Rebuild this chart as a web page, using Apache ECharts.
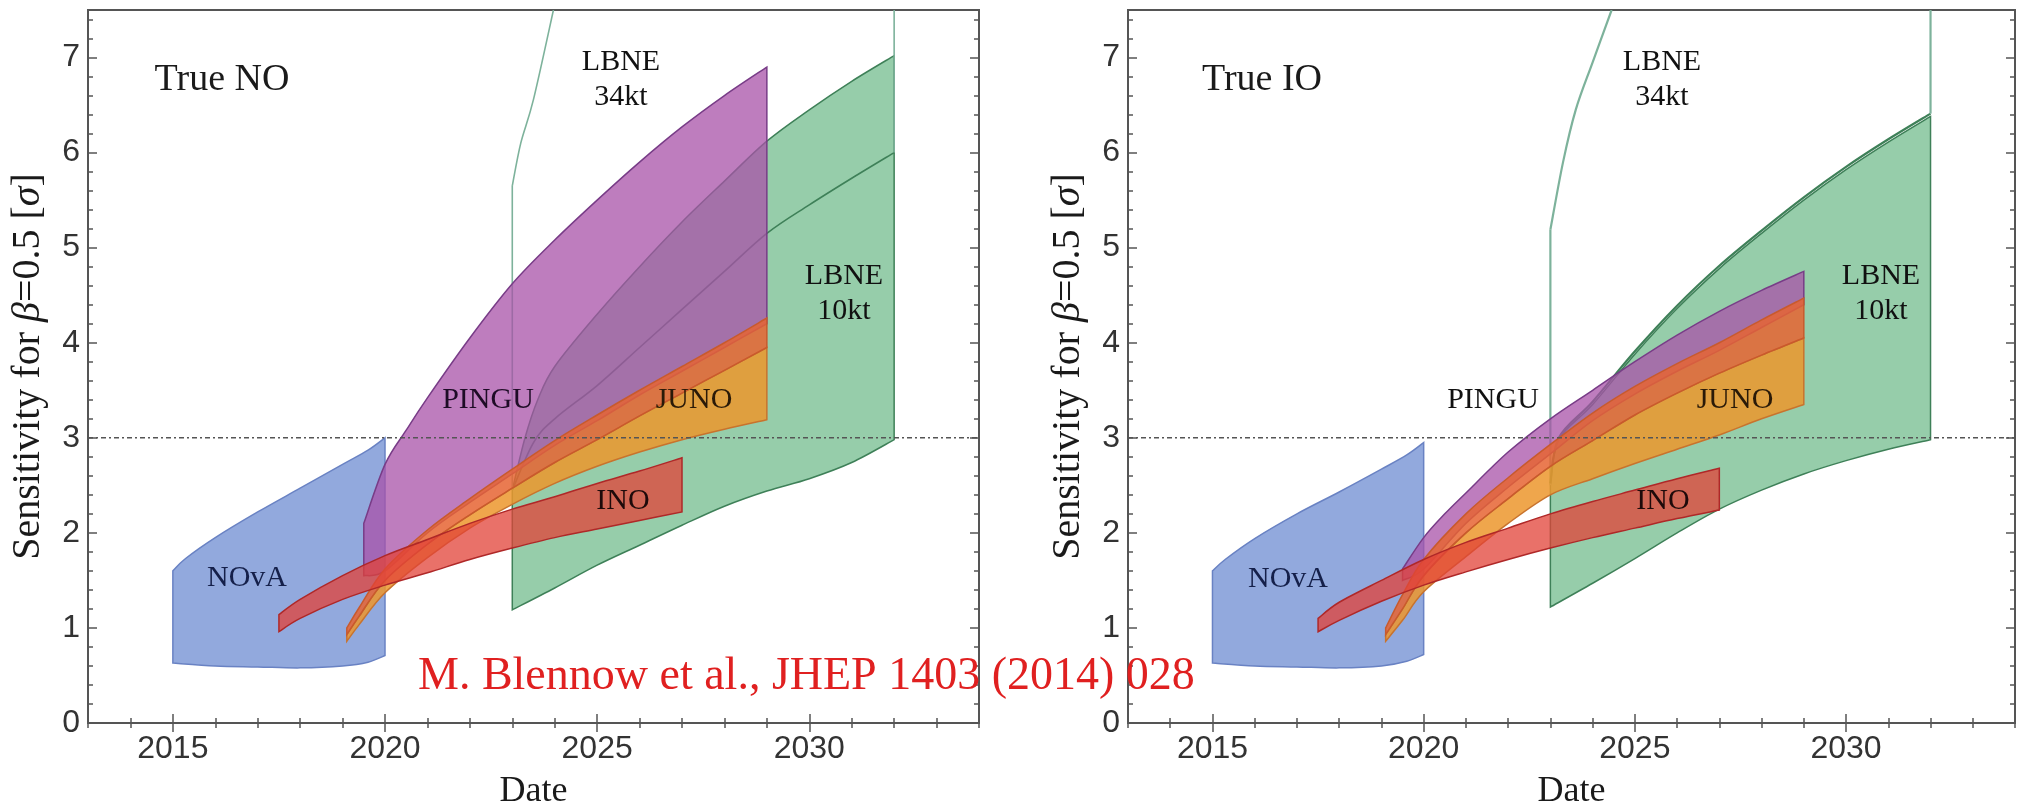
<!DOCTYPE html>
<html>
<head>
<meta charset="utf-8">
<script src="https://cdn.jsdelivr.net/npm/echarts@6/dist/echarts.min.js"></script>
<style>
  html, body { margin: 0; padding: 0; background: #fff; }
  #chart { width: 2028px; height: 811px; }
</style>
</head>
<body>
<div id="chart"></div>
<script>
// axis ranges / ticks
var xMin = 2013, xMax = 2034;
var yMin = 0, yMax = 7.5;
var xMajorTicks = [2015, 2020, 2025, 2030];
var yMajorTicks = [0, 1, 2, 3, 4, 5, 6, 7];
var sigma3Line = [[2013, 3], [2034, 3]];

// ---- True NO (left panel) ----
var novaUpperNO = [[2015,1.6],[2015.3,1.73],[2016,1.95],[2017,2.22],[2018,2.47],[2019,2.72],[2019.6,2.87],[2020,3.0]];
var novaLowerNO = [[2015,0.63],[2016,0.6],[2017,0.59],[2018,0.58],[2019,0.6],[2019.6,0.64],[2020,0.71]];
var pinguUpperNO = [[2019.5,2.1],[2020,2.72],[2020.5,3.08],[2021,3.42],[2022,4.05],[2023,4.62],[2024,5.08],[2025,5.5],[2026,5.9],[2027,6.27],[2028,6.6],[2029,6.9]];
var pinguLowerNO = [[2019.5,1.55],[2020,1.6],[2021,2.0],[2022,2.32],[2023,2.62],[2024,2.92],[2025,3.18],[2026,3.45],[2027,3.7],[2028,3.95],[2029,4.2]];
var junoUpperNO = [[2019.1,1.0],[2019.4,1.22],[2020,1.62],[2021,2.03],[2022,2.36],[2023,2.67],[2024,2.97],[2025,3.24],[2026,3.5],[2027,3.75],[2028,4.0],[2029,4.26]];
var junoMidNO = [[2019.1,0.93],[2019.4,1.13],[2020,1.5],[2021,1.88],[2022,2.19],[2023,2.47],[2024,2.74],[2025,2.98],[2026,3.23],[2027,3.47],[2028,3.71],[2029,3.95]];
var junoLowerNO = [[2019.1,0.86],[2019.4,1.04],[2020,1.37],[2021,1.74],[2022,2.05],[2023,2.3],[2024,2.52],[2025,2.7],[2026,2.85],[2027,2.98],[2028,3.09],[2029,3.19]];
var inoUpperNO = [[2017.5,1.14],[2018,1.3],[2019,1.55],[2020,1.76],[2021,1.93],[2022,2.1],[2023,2.25],[2024,2.38],[2025,2.52],[2026,2.65],[2027,2.79]];
var inoLowerNO = [[2017.5,0.96],[2018,1.1],[2019,1.3],[2020,1.45],[2021,1.58],[2022,1.72],[2023,1.84],[2024,1.95],[2025,2.04],[2026,2.13],[2027,2.22]];
var lbne10UpperNO = [[2023,2.45],[2023.3,3.0],[2023.6,3.4],[2024,3.75],[2025,4.3],[2026,4.8],[2027,5.27],[2028,5.7],[2029,6.12],[2030,6.45],[2031,6.75],[2032,7.02]];
var lbne10LowerNO = [[2023,1.19],[2024,1.42],[2025,1.66],[2026,1.87],[2027,2.08],[2028,2.28],[2029,2.44],[2030,2.57],[2031,2.74],[2032,2.98]];
var lbne34EdgeNO = [[2023,2.45],[2023,5.65]];
var lbne34UpperNO = [[2023,5.65],[2023.2,6.1],[2023.5,6.56],[2023.97,7.5]];
var lbne34LowerNO = [[2023,2.45],[2023.5,2.95],[2024,3.2],[2025,3.55],[2026,3.95],[2027,4.35],[2028,4.75],[2029,5.15],[2030,5.45],[2031,5.73],[2032,6.0]];
var lbne34RightNO = [[2032,6.0],[2032,7.5]];

// ---- True IO (right panel) ----
var novaUpperIO = [[2015,1.6],[2015.3,1.72],[2016,1.94],[2017,2.2],[2018,2.43],[2019,2.67],[2019.6,2.82],[2020,2.95]];
var novaLowerIO = [[2015,0.63],[2016,0.6],[2017,0.59],[2018,0.58],[2019,0.6],[2019.6,0.65],[2020,0.72]];
var pinguUpperIO = [[2019.5,1.62],[2020,1.95],[2020.5,2.2],[2021,2.42],[2022,2.85],[2023,3.2],[2024,3.5],[2025,3.8],[2026,4.08],[2027,4.33],[2028,4.55],[2029,4.75]];
var pinguLowerIO = [[2019.5,1.5],[2020,1.62],[2021,2.1],[2022,2.48],[2023,2.83],[2024,3.18],[2025,3.46],[2026,3.7],[2027,3.92],[2028,4.16],[2029,4.4]];
var junoUpperIO = [[2019.1,1.0],[2019.5,1.35],[2020,1.72],[2021,2.2],[2022,2.58],[2023,2.93],[2024,3.26],[2025,3.54],[2026,3.78],[2027,4.0],[2028,4.24],[2029,4.47]];
var junoMidIO = [[2019.1,0.93],[2019.5,1.2],[2020,1.55],[2021,2.0],[2022,2.36],[2023,2.7],[2024,2.97],[2025,3.24],[2026,3.47],[2027,3.68],[2028,3.87],[2029,4.05]];
var junoLowerIO = [[2019.1,0.86],[2019.5,1.08],[2020,1.38],[2021,1.75],[2022,2.1],[2023,2.4],[2024,2.57],[2025,2.73],[2026,2.88],[2027,3.03],[2028,3.2],[2029,3.35]];
var inoUpperIO = [[2017.5,1.1],[2018,1.27],[2019,1.5],[2020,1.72],[2021,1.9],[2022,2.05],[2023,2.2],[2024,2.33],[2025,2.45],[2026,2.57],[2027,2.68]];
var inoLowerIO = [[2017.5,0.96],[2018,1.08],[2019,1.28],[2020,1.45],[2021,1.59],[2022,1.72],[2023,1.84],[2024,1.95],[2025,2.05],[2026,2.15],[2027,2.24]];
var lbne10UpperIO = [[2023,2.5],[2023.2,2.98],[2024,3.35],[2025,3.88],[2026,4.36],[2027,4.78],[2028,5.15],[2029,5.5],[2030,5.82],[2031,6.11],[2032,6.38]];
var lbne10LowerIO = [[2023,1.22],[2024,1.47],[2025,1.73],[2026,2.0],[2027,2.25],[2028,2.45],[2029,2.62],[2030,2.76],[2031,2.88],[2032,2.98]];
var lbne34EdgeIO = [[2023,2.5],[2023,5.19]];
var lbne34UpperIO = [[2023,5.19],[2023.3,5.9],[2023.6,6.45],[2024,6.95],[2024.45,7.5]];
var lbne34LowerIO = [[2023,2.52],[2023.2,3.0],[2024,3.38],[2025,3.91],[2026,4.39],[2027,4.81],[2028,5.18],[2029,5.53],[2030,5.85],[2031,6.14],[2032,6.41]];
var lbne34RightIO = [[2032,6.41],[2032,7.5]];

var tickFont = '"Liberation Sans", Arial, sans-serif';
var serif = '"Liberation Serif", "Times New Roman", serif';
var grids = [
    { left: 88, top: 10, width: 891, height: 713 },
    { left: 1128, top: 10, width: 887, height: 713 }
];

function isMajor(list, v) {
    return list.indexOf(Math.round(v * 100) / 100) >= 0;
}

function xAxes(g) {
    var tick = { lineStyle: { color: '#555', width: 1.5 } };
    var base = { gridIndex: g, type: 'value', min: xMin, max: xMax, axisLine: { show: false }, splitLine: { show: false } };
    return [
        Object.assign({}, base, {
            position: 'bottom', interval: 1,
            axisTick: Object.assign({ inside: true, length: 5 }, tick),
            axisLabel: {
                formatter: function (v) { return isMajor(xMajorTicks, v) ? String(v) : ''; },
                fontFamily: tickFont, fontSize: 32, color: '#333', margin: 10
            },
            name: 'Date', nameLocation: 'middle', nameGap: 51,
            nameTextStyle: { fontFamily: serif, fontSize: 36, color: '#1a1a1a' }
        }),
        Object.assign({}, base, { position: 'bottom', axisLabel: { show: false },
            axisTick: Object.assign({ inside: true, length: 9, customValues: xMajorTicks }, tick) }),
        Object.assign({}, base, { position: 'top', interval: 1, axisLabel: { show: false },
            axisTick: Object.assign({ inside: true, length: 5 }, tick) }),
        Object.assign({}, base, { position: 'top', axisLabel: { show: false },
            axisTick: Object.assign({ inside: true, length: 9, customValues: xMajorTicks }, tick) })
    ];
}

function yAxes(g) {
    var tick = { lineStyle: { color: '#555', width: 1.5 } };
    var base = { gridIndex: g, type: 'value', min: yMin, max: yMax, axisLine: { show: false }, splitLine: { show: false } };
    return [
        Object.assign({}, base, {
            position: 'left', interval: 0.2,
            axisTick: Object.assign({ inside: true, length: 5 }, tick),
            axisLabel: {
                formatter: function (v) { return isMajor(yMajorTicks, v) ? String(Math.round(v)) : ''; },
                fontFamily: tickFont, fontSize: 32, color: '#333', margin: 8
            },
            name: '{t|Sensitivity for }{i|β}{t|=0.5 [}{i|σ}{t|]}',
            nameLocation: 'middle', nameGap: 40, nameRotate: 90,
            nameTextStyle: {
                rich: {
                    t: { fontFamily: serif, fontSize: 40, color: '#1a1a1a' },
                    i: { fontFamily: serif, fontSize: 40, fontStyle: 'italic', color: '#1a1a1a' }
                }
            }
        }),
        Object.assign({}, base, { position: 'left', axisLabel: { show: false },
            axisTick: Object.assign({ inside: true, length: 9, customValues: yMajorTicks }, tick) }),
        Object.assign({}, base, { position: 'right', interval: 0.2, axisLabel: { show: false },
            axisTick: Object.assign({ inside: true, length: 5 }, tick) }),
        Object.assign({}, base, { position: 'right', axisLabel: { show: false },
            axisTick: Object.assign({ inside: true, length: 9, customValues: yMajorTicks }, tick) })
    ];
}

// Catmull-Rom through pixel points -> cubic bezier path commands
function spline(pts) {
    var d = '';
    for (var i = 0; i < pts.length - 1; i++) {
        var p0 = pts[i - 1] || pts[i], p1 = pts[i], p2 = pts[i + 1], p3 = pts[i + 2] || p2;
        var c1 = [p1[0] + (p2[0] - p0[0]) / 6, p1[1] + (p2[1] - p0[1]) / 6];
        var c2 = [p2[0] - (p3[0] - p1[0]) / 6, p2[1] - (p3[1] - p1[1]) / 6];
        d += ' C' + c1.join(',') + ' ' + c2.join(',') + ' ' + p2.join(',');
    }
    return d;
}

// filled band between an upper and a lower edge
function band(g, upper, lower, fill, stroke) {
    return {
        type: 'custom', xAxisIndex: g * 4, yAxisIndex: g * 4, clip: true, silent: true,
        data: [upper[0]],
        renderItem: function (params, api) {
            var u = upper.map(function (p) { return api.coord(p); });
            var l = lower.slice().reverse().map(function (p) { return api.coord(p); });
            var d = 'M' + u[0].join(',') + spline(u) + ' L' + l[0].join(',') + spline(l) + ' Z';
            return { type: 'path', shape: { pathData: d },
                style: { fill: fill, stroke: stroke, lineWidth: 1.5 } };
        }
    };
}

// unfilled edges (LBNE 34kt)
function outline(g, lines, strokes, width) {
    return {
        type: 'custom', xAxisIndex: g * 4, yAxisIndex: g * 4, clip: true, silent: true,
        data: [lines[0][0]],
        renderItem: function (params, api) {
            return { type: 'group', children: lines.map(function (line, i) {
                var p = line.map(function (q) { return api.coord(q); });
                return { type: 'path', shape: { pathData: 'M' + p[0].join(',') + spline(p) },
                    style: { fill: null, stroke: strokes[i], lineWidth: width } };
            }) };
        }
    };
}

function panel(g, d) {
    var teal = 'rgb(125,178,155)', dark = 'rgb(62,128,88)';
    return [
        band(g, d.novaU, d.novaL, 'rgba(110,140,210,0.75)', 'rgb(105,130,195)'),
        band(g, d.lbneU, d.lbneL, 'rgba(80,172,113,0.6)', dark),
        outline(g, [d.l34E, d.l34U, d.l34L, d.l34R], [teal, teal, dark, teal], g ? 2.2 : 1.6),
        band(g, d.pinguU, d.pinguL, 'rgba(168,82,168,0.75)', 'rgb(120,60,135)'),
        band(g, d.junoM, d.junoL, 'rgba(236,150,45,0.85)', 'rgb(200,115,45)'),
        band(g, d.junoU, d.junoM, 'rgba(230,100,50,0.85)', 'rgb(200,90,45)'),
        band(g, d.inoU, d.inoL, 'rgba(225,65,55,0.75)', 'rgb(175,40,40)'),
        {
            type: 'line', xAxisIndex: g * 4, yAxisIndex: g * 4, data: sigma3Line,
            symbol: 'none', silent: true, z: 5,
            lineStyle: { type: [5, 3, 2, 3], color: '#555', width: 1.6 }
        }
    ];
}

var series = panel(0, {
    novaU: novaUpperNO, novaL: novaLowerNO, lbneU: lbne10UpperNO, lbneL: lbne10LowerNO,
    l34E: lbne34EdgeNO, l34U: lbne34UpperNO, l34L: lbne34LowerNO, l34R: lbne34RightNO,
    pinguU: pinguUpperNO, pinguL: pinguLowerNO,
    junoU: junoUpperNO, junoM: junoMidNO, junoL: junoLowerNO, inoU: inoUpperNO, inoL: inoLowerNO
}).concat(panel(1, {
    novaU: novaUpperIO, novaL: novaLowerIO, lbneU: lbne10UpperIO, lbneL: lbne10LowerIO,
    l34E: lbne34EdgeIO, l34U: lbne34UpperIO, l34L: lbne34LowerIO, l34R: lbne34RightIO,
    pinguU: pinguUpperIO, pinguL: pinguLowerIO,
    junoU: junoUpperIO, junoM: junoMidIO, junoL: junoLowerIO, inoU: inoUpperIO, inoL: inoLowerIO
}));

function label(x, y, text, color, size) {
    return { type: 'text', x: x, y: y, z: 100, silent: true,
        style: { text: text, fill: color, font: (size || 30) + 'px ' + serif,
            align: 'center', verticalAlign: 'middle', lineHeight: 35 } };
}

var chart = echarts.init(document.getElementById('chart'));
chart.setOption({
    animation: false,
    backgroundColor: '#fff',
    grid: grids.map(function (g) {
        return Object.assign({ show: true, borderColor: '#555', borderWidth: 2, backgroundColor: 'transparent',
            containLabel: false, outerBoundsMode: 'none' }, g);
    }),
    xAxis: xAxes(0).concat(xAxes(1)),
    yAxis: yAxes(0).concat(yAxes(1)),
    series: series,
    graphic: [
        label(222, 80, 'True NO', '#1a1a1a', 38),
        label(621, 80, 'LBNE\n34kt', '#111'),
        label(844, 294, 'LBNE\n10kt', '#111'),
        label(488, 400, 'PINGU', '#1e0c26'),
        label(694, 400, 'JUNO', '#2a1a08'),
        label(623, 501, 'INO', '#1e0a0a'),
        label(247, 578, 'NOvA', '#15204a'),
        label(1262, 80, 'True IO', '#1a1a1a', 38),
        label(1662, 80, 'LBNE\n34kt', '#111'),
        label(1881, 294, 'LBNE\n10kt', '#111'),
        label(1493, 400, 'PINGU', '#111'),
        label(1735, 400, 'JUNO', '#2a1a08'),
        label(1663, 501, 'INO', '#1e0a0a'),
        label(1288, 579, 'NOvA', '#15204a'),
        { type: 'text', x: 418, y: 677, z: 100, silent: true,
          style: { text: 'M. Blennow et al., JHEP 1403 (2014) 028', fill: '#e02020',
                   font: '46px ' + serif, align: 'left', verticalAlign: 'middle' } }
    ]
});
</script>
</body>
</html>
